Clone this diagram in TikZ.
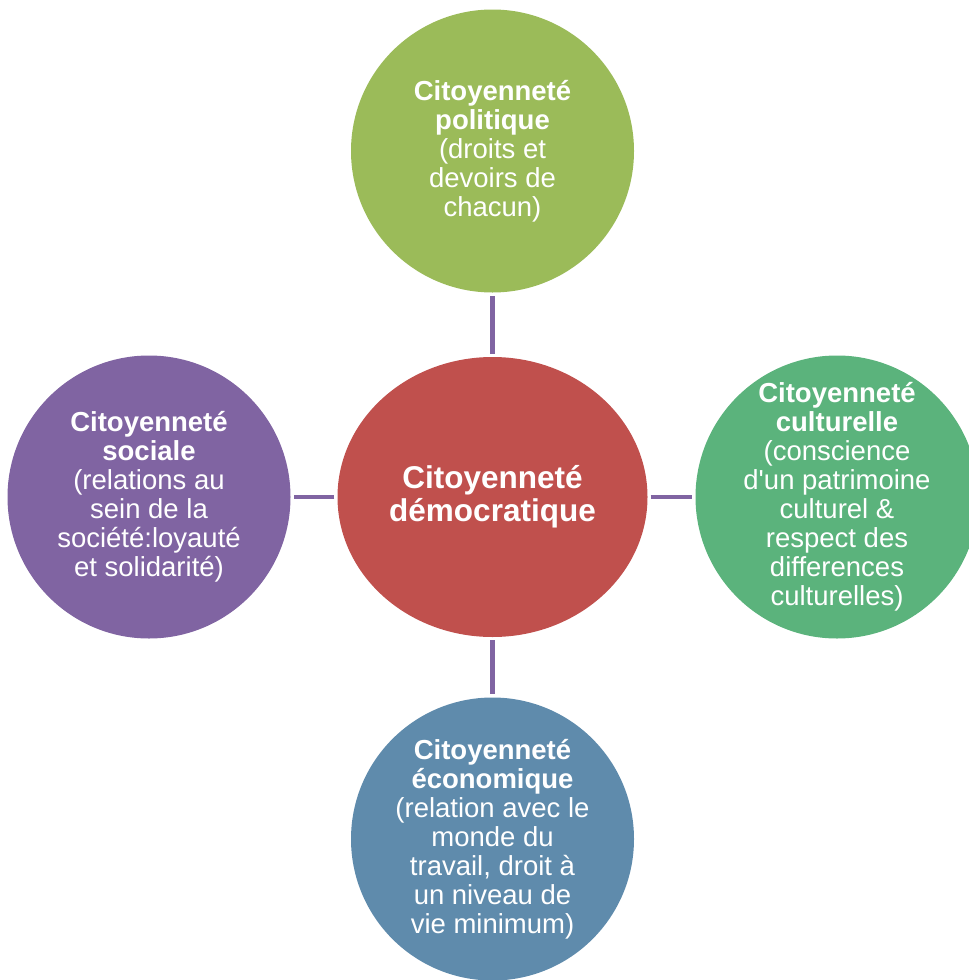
\documentclass[tikz,border=0pt]{standalone}
\usepackage{fontspec}
\setmainfont{Liberation Sans}
\usepackage{tikz}
\usetikzlibrary{shapes.geometric}
\definecolor{citRed}{HTML}{C0504D}
\definecolor{citOlive}{HTML}{9BBB59}
\definecolor{citJade}{HTML}{5BB37C}
\definecolor{citSteel}{HTML}{5F8BAC}
\definecolor{citPlum}{HTML}{8064A2}

\begin{document}
\begin{tikzpicture}[
  x=1pt, y=-1pt,
  bubble/.style={circle, minimum size=283pt, inner sep=-12pt, text=white,
                 align=center, font=\fontsize{27.5}{29}\selectfont},
  hub/.style={ellipse, minimum width=310pt, minimum height=280pt,
              inner sep=0pt, fill=citRed, text=white, align=center,
              font=\fontsize{31.5}{33}\selectfont\bfseries},
  link/.style={draw=citPlum, line width=4.5pt, shorten >=3pt, shorten <=3pt},
]
\useasboundingbox (0,0) rectangle (969,980);
\clip (0,0) rectangle (969,980);

% ======================= centre =========================================
\node[hub] (demo) at (492.5,497) {Citoyenneté\\démocratique};

% ======================= four sides =====================================
\node[bubble, fill=citOlive] (poli) at (492.5,151)
  {\textbf{Citoyenneté}\\\textbf{politique}\\(droits et\\devoirs de\\chacun)};
\node[bubble, fill=citPlum] (soci) at (149,497)
  {\textbf{Citoyenneté}\\\textbf{sociale}\\(relations au\\sein de la\\société:loyauté\\et solidarité)};
\node[bubble, fill=citJade] (cult) at (837,497)
  {\textbf{Citoyenneté}\\\textbf{culturelle}\\(conscience\\d\textquotesingle un patrimoine\\culturel \&\\respect des\\differences\\culturelles)};
\node[bubble, fill=citSteel] (econ) at (492.5,839)
  {\textbf{Citoyenneté}\\\textbf{économique}\\(relation avec le\\monde du\\travail, droit à\\un niveau de\\vie minimum)};

% ======================= links ==========================================
\foreach \n in {poli, soci, cult, econ} {
  \draw[link] (demo) -- (\n);
}
\end{tikzpicture}
\end{document}
